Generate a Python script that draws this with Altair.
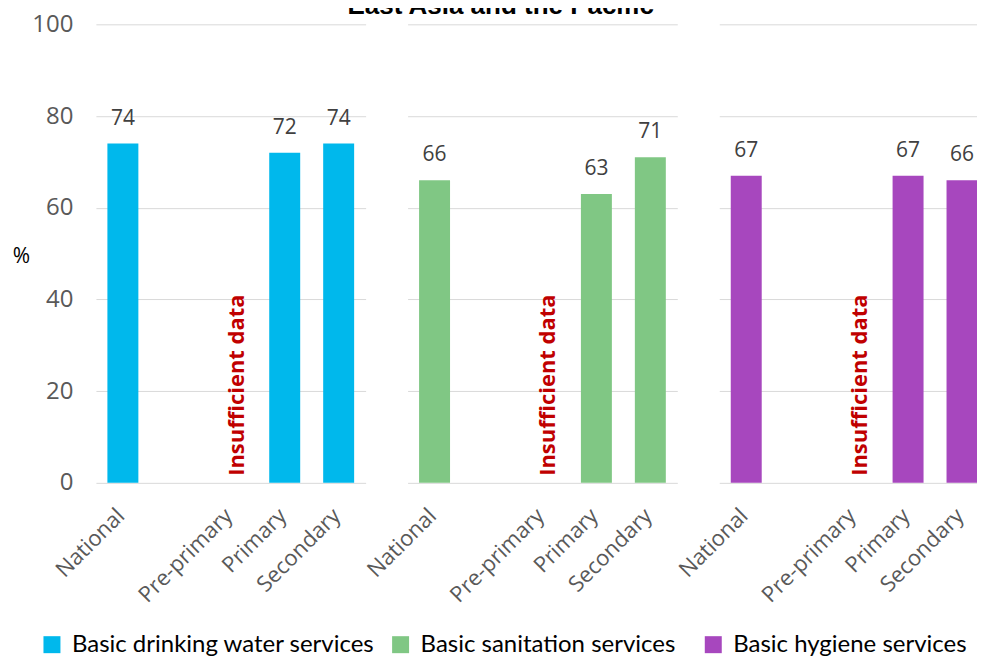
import altair as alt
import pandas as pd

title_text = "East Asia and the Pacific"
categories = ["National", " ", "Pre-primary", "Primary", "Secondary"]
services = ["Basic drinking water services", "Basic sanitation services", "Basic hygiene services"]
colors = ["#00B8EC", "#80C784", "#A747BE"]
water = [74, None, None, 72, 74]
sanitation = [66, None, None, 63, 71]
hygiene = [67, None, None, 67, 66]
series_values = [water, sanitation, hygiene]
insufficient_cat = "Pre-primary"
insufficient_label = "Insufficient data"
y_ticks = [0, 20, 40, 60, 80, 100]
legend_x = [-56, -19, -18]

W, H = 270, 459
FONT = "Open Sans"


def panel(i):
    df = pd.DataFrame({"cat": categories, "value": series_values[i], "service": services[i]}).dropna()
    xscale = alt.Scale(domain=categories, paddingInner=0.426, paddingOuter=0.213)
    x = alt.X("cat:N", sort=categories, scale=xscale,
              axis=alt.Axis(title=None, labelAngle=-45, labelFontSize=22, labelColor="#595959",
                            labelFont=FONT, ticks=False, domain=False, labelPadding=22,
                            labelOffset=-9, labelLimit=250))
    if i == 0:
        yaxis = alt.Axis(values=y_ticks, grid=True, gridColor="#D9D9D9", ticks=False, domain=False,
                         labelFontSize=24, labelColor="#595959", labelFont=FONT, labelPadding=23,
                         title="%", titleAngle=0, titleX=-75, titleY=232, titleAlign="center",
                         titleBaseline="middle", titleFontSize=21, titleFontWeight="normal",
                         titleColor="#000000", titleFont=FONT)
    else:
        yaxis = alt.Axis(values=y_ticks, grid=True, gridColor="#D9D9D9", ticks=False, domain=False,
                         labels=False, title=None)
    y = alt.Y("value:Q", scale=alt.Scale(domain=[0, 100]), axis=yaxis)
    base = alt.Chart(df)
    bars = base.mark_bar().encode(
        x=x, y=y,
        color=alt.Color("service:N", scale=alt.Scale(domain=[services[i]], range=[colors[i]]),
                        legend=alt.Legend(orient="none", legendX=legend_x[i], legendY=609, title=None,
                                          symbolType="square", symbolSize=289, symbolStrokeWidth=0,
                                          labelFontSize=24, labelFont="Lato",
                                          labelColor="#000000", labelLimit=500, labelOffset=8,
                                          padding=0)),
    )
    labels = base.mark_text(dy=-19, baseline="alphabetic", fontSize=21, color="#404040", font=FONT).encode(
        x=alt.X("cat:N", sort=categories, scale=xscale), y=alt.Y("value:Q"), text="value:Q")
    ins_df = pd.DataFrame({"cat": [insufficient_cat], "y": [0], "t": [insufficient_label]})
    ins = alt.Chart(ins_df).mark_text(angle=270, align="left", baseline="middle", dx=7, dy=6,
                                      color="#C00000", fontWeight="bold", fontSize=22, font=FONT).encode(
        x=alt.X("cat:N", sort=categories, scale=xscale), y=alt.Y("y:Q"), text="t:N")
    return alt.layer(bars, labels, ins).properties(width=W, height=H)


chart = alt.hconcat(panel(0), panel(1), panel(2), spacing=42, bounds="flush").resolve_scale(
    color="independent").resolve_legend(color="independent").properties(
    title=alt.TitleParams(title_text, fontSize=26, font="Liberation Sans", fontWeight="bold",
                          color="#000000", anchor="middle", offset=-7),
    padding={"top": -15, "left": 4, "right": -12, "bottom": 3},
).configure_view(stroke=None)

chart.save("out.html", embed_options={"renderer": "svg", "actions": False})
